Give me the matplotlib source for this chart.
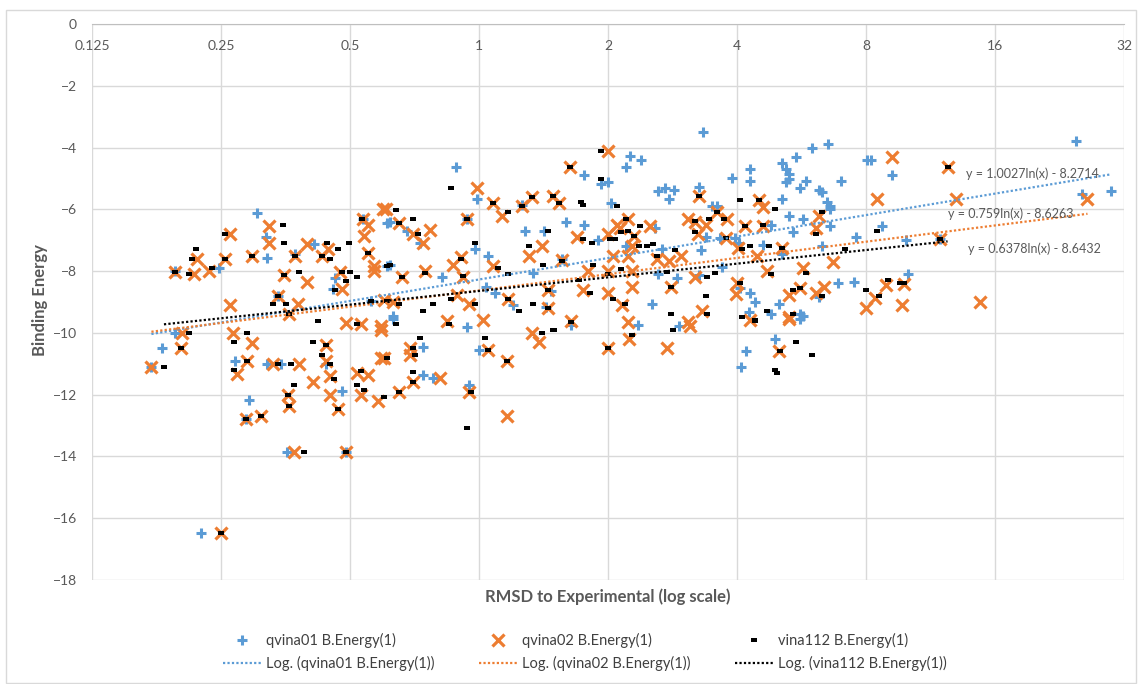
import matplotlib
matplotlib.use('Agg')
import matplotlib.pyplot as plt
import matplotlib.patches as plp
import numpy as np

plt.rcParams['font.family'] = ['Lato', 'DejaVu Sans']

# qvina01 (blue +)
q1_rmsd = [0.304, 0.318, 0.32, 0.247, 0.195, 0.413, 0.462, 0.456, 0.537, 0.61, 0.61, 0.34, 0.56, 0.373,
           0.886, 1.76, 2.0, 1.93, 0.99, 1.26, 2.03, 0.62, 0.68, 0.73, 1.28, 1.42, 1.6, 1.76, 1.9, 0.98,
           1.05, 1.56, 1.34, 0.82, 1.04, 1.09, 1.47, 1.2, 1.43, 0.94, 0.63, 0.62, 0.94,
           0.195, 0.182, 0.172, 0.27, 0.29, 0.286, 0.345, 0.32, 0.357, 0.49, 0.224, 0.44, 0.48,
           0.63, 0.74, 0.74, 0.78, 0.95, 0.998, 1.64,
           3.34, 6.0, 6.52, 2.25, 2.39, 2.2, 8.05, 4.3, 4.3, 3.9, 5.1, 5.5, 5.2, 5.3, 5.3, 5.2, 5.8, 5.6,
           7.0, 6.2, 6.3, 6.5, 6.6, 2.62, 2.71, 2.85, 2.78, 3.26, 5.1, 5.3, 6.6, 6.6, 5.7, 5.4, 7.6, 4.8,
           3.6, 3.5, 3.38, 3.66, 3.95, 3.3, 4.05, 4.6, 5.1, 6.3, 2.58, 2.2, 2.67, 2.62, 2.9, 3.26, 3.7,
           4.07, 2.53, 4.3, 4.4, 4.27, 4.8, 5.0, 6.2, 6.9, 7.5, 5.6, 5.7,
           2.35, 2.93, 4.9, 4.2, 4.08, 5.6,
           8.2, 9.2, 24.7, 25.6, 29.9, 8.7, 9.9, 11.9, 10.0]
q1_energy = [-6.11, -6.89, -7.59, -7.9, -8.0, -7.11, -8.22, -8.59, -6.3, -6.43, -7.82, -8.8, -8.97, -7.45,
             -4.63, -4.9, -5.11, -5.19, -5.68, -5.85, -5.8, -6.4, -6.7, -7.1, -6.7, -6.7, -6.4, -6.5, -7.0, -7.3,
             -7.5, -7.62, -8.07, -8.2, -8.5, -8.7, -8.65, -9.1, -9.15, -9.8, -9.45, -7.8, -6.3,
             -10.0, -10.48, -11.1, -10.9, -12.18, -12.8, -11.0, -11.0, -13.87, -13.87, -16.48, -11.0, -11.88,
             -9.55, -10.46, -11.35, -11.46, -11.7, -10.57, -9.75,
             -3.51, -4.0, -3.87, -4.27, -4.4, -4.62, -4.4, -4.68, -5.08, -5.0, -4.5, -4.3, -4.68, -4.86, -5.03, -5.12, -5.08, -5.3,
             -5.08, -5.38, -5.45, -5.76, -5.9, -5.4, -5.3, -5.36, -5.65, -5.28, -5.68, -6.2, -6.0, -6.55, -6.3, -6.75, -6.9, -6.5,
             -5.9, -5.9, -6.9, -6.92, -6.92, -7.32, -7.1, -7.14, -7.46, -7.2, -6.6, -7.2, -7.3, -8.08, -8.22, -8.11, -7.86,
             -8.55, -9.08, -8.7, -9.0, -9.33, -9.4, -9.08, -8.83, -8.4, -8.35, -9.4, -9.45,
             -9.76, -9.77, -10.2, -10.58, -11.1, -9.55,
             -4.4, -4.9, -3.78, -5.51, -5.4, -6.55, -7.0, -6.97, -8.1]

# qvina02 (orange x)
q2_rmsd = [0.263, 0.323, 0.324, 0.220, 0.234, 0.256, 0.195, 0.216, 0.296, 0.396, 0.444, 0.373, 0.43, 0.35,
           0.396, 0.474, 0.478, 0.537, 0.55, 0.54, 0.598, 0.55, 0.57, 0.57, 0.34, 0.379, 0.263, 0.36, 0.49,
           0.53, 0.59, 0.6,
           2.0, 1.63, 0.99, 1.08, 1.13, 1.26, 1.33, 1.49, 1.54, 0.607, 0.65, 0.94, 0.77, 0.70, 0.74, 1.69,
           2.0, 2.1, 1.4, 1.31, 0.91, 0.87, 1.08, 1.56, 1.8, 0.92, 0.75, 0.66, 1.45, 1.75, 2.0, 2.16, 0.89,
           0.95, 1.17, 1.45, 0.84, 1.02, 1.64, 0.63, 2.05, 2.0,
           0.203, 0.202, 0.172, 0.267, 0.296, 0.288, 0.272, 0.286, 0.31, 0.33, 0.38, 0.41, 0.358, 0.36,
           0.37, 0.49, 0.25, 0.44, 0.44, 0.45, 0.45, 0.47, 0.59, 0.59, 0.52, 0.55, 0.53, 0.58,
           0.69, 0.69, 0.6, 0.81, 0.7, 0.65, 0.95, 1.16, 1.05, 1.16, 1.33, 1.38, 2.0,
           3.27, 4.5, 4.6, 6.2, 6.1, 4.17, 4.6, 3.07, 3.38, 3.25, 3.2, 3.6, 3.8, 3.77, 4.02, 4.45, 5.1, 5.7,
           6.7, 4.7, 2.23, 2.13, 2.5, 2.3, 2.27, 2.23, 2.6, 2.78, 2.96, 2.27, 3.2, 3.97, 4.0, 2.8, 2.27,
           3.32, 3.08, 2.23, 4.3, 5.3, 5.6, 6.1, 6.4, 5.3,
           2.24, 2.75, 3.1, 5.0, 5.3,
           9.2, 12.4, 26.3, 8.5, 13.0, 11.9, 9.8, 8.9, 8.4, 8.0, 9.7, 14.8]
q2_energy = [-6.81, -6.54, -7.1, -7.6, -8.0, -7.6, -8.02, -8.1, -7.51, -7.11, -7.3, -7.51, -7.5, -8.11,
             -8.35, -8.03, -8.59, -6.32, -6.52, -6.86, -6.0, -7.4, -7.82, -8.0, -8.8, -9.08, -9.11, -9.4, -9.68,
             -9.7, -9.78, -8.92,
             -4.12, -4.62, -5.32, -5.8, -6.2, -5.9, -5.6, -5.56, -5.8, -6.0, -6.43, -6.3, -6.67, -6.8, -7.1, -6.9,
             -6.8, -6.5, -7.2, -7.5, -7.55, -7.8, -7.84, -7.65, -8.0, -8.2, -8.0, -8.2, -8.6, -8.6, -8.7, -9.1, -8.76,
             -9.07, -8.9, -9.2, -9.6, -9.57, -9.6, -9.0, -7.5, -8.0,
             -10.0, -10.5, -11.1, -10.0, -10.32, -10.9, -11.32, -12.8, -12.69, -11.0, -11.0, -11.6, -12.0, -12.37,
             -13.87, -13.87, -16.48, -10.4, -10.9, -11.38, -12.0, -12.47, -9.9, -10.8, -11.3, -11.35, -12.0, -12.2,
             -10.5, -10.7, -10.8, -11.46, -11.6, -11.9, -11.9, -12.69, -10.57, -10.9, -10.0, -10.3, -10.5,
             -5.57, -5.7, -5.92, -6.21, -6.6, -6.54, -6.54, -6.32, -6.52, -6.8, -6.4, -6.1, -6.3, -6.92, -7.24, -7.5, -7.24, -7.9,
             -7.7, -8.0, -6.32, -6.6, -6.54, -6.86, -7.2, -7.5, -7.62, -7.68, -7.5, -8.0, -8.2, -8.75, -8.38, -8.5, -8.5,
             -9.3, -9.66, -9.65, -9.57, -8.76, -8.54, -8.7, -8.5, -9.5,
             -10.2, -10.5, -9.77, -10.6, -9.55,
             -4.32, -4.62, -5.68, -5.68, -5.68, -6.97, -8.43, -8.45, -8.87, -9.2, -9.1, -9.0]

# vina112 (black dash)
v112_rmsd = [0.255, 0.349, 0.35, 0.219, 0.214, 0.238, 0.256, 0.195, 0.21, 0.296, 0.442, 0.468, 0.497, 0.373,
             0.43, 0.45, 0.35, 0.38, 0.479, 0.5, 0.52, 0.49, 0.462, 0.534, 0.55, 0.61, 0.34, 0.33, 0.355, 0.36,
             0.42, 0.52, 0.56, 0.61,
             1.93, 1.63, 1.93, 0.86, 1.08, 1.17, 1.26, 1.33, 1.49, 1.54, 1.73, 1.75, 2.1, 0.64, 0.65, 0.70,
             0.94, 0.72, 1.45, 1.75, 1.84, 2.02, 2.08, 1.31, 1.41, 0.98, 0.91, 1.11, 1.56, 1.85, 1.17, 0.92,
             0.75, 0.66, 1.45, 1.82, 1.71, 2.05, 0.86, 0.98, 0.78, 0.74, 1.17, 1.24, 1.34, 1.45, 0.85, 1.64,
             1.5, 0.65, 0.64, 0.62, 2.0,
             0.21, 0.202, 0.184, 0.287, 0.268, 0.288, 0.268, 0.286, 0.31, 0.34, 0.365, 0.37, 0.358, 0.36,
             0.39, 0.49, 0.25, 0.41, 0.44, 0.43, 0.45, 0.46, 0.47, 0.61, 0.53, 0.52, 0.54, 0.6,
             0.70, 0.73, 0.71, 0.7, 0.7, 0.65, 0.6, 0.96, 0.94, 1.03, 1.05, 1.16, 1.4, 1.49, 2.0,
             3.27, 4.5, 4.07, 4.9, 6.3, 6.1, 4.17, 4.6, 3.2, 3.2, 3.44, 3.6, 3.74, 3.77, 7.16, 4.1, 4.3, 4.75,
             5.1, 5.8, 4.8, 2.2, 2.23, 2.15, 2.38, 2.3, 2.36, 2.46, 2.55, 2.6, 2.86, 2.14, 2.75, 3.4, 3.55,
             3.38, 4.07, 2.8, 2.8, 3.4, 2.19, 4.4, 4.7, 5.4, 5.6, 6.3, 8.0, 5.4, 4.1,
             2.28, 2.84, 4.4, 5.5, 5.05, 6.0, 4.9, 4.95,
             12.4, 8.5, 11.9, 9.0, 9.8, 9.6, 8.6]
v112_energy = [-6.81, -6.5, -7.09, -7.3, -7.6, -7.91, -7.6, -8.02, -8.08, -7.51, -7.1, -7.3, -7.08, -7.51,
               -7.5, -7.62, -8.11, -8.02, -8.03, -8.03, -8.18, -8.31, -8.62, -6.3, -7.4, -7.82, -8.8, -9.08, -9.08, -9.4,
               -9.6, -9.7, -8.97, -8.97,
               -4.12, -4.62, -5.03, -5.3, -5.8, -6.08, -5.9, -5.6, -5.56, -5.8, -5.75, -5.85, -5.9, -6.02, -6.43, -6.3,
               -6.3, -6.81, -6.7, -6.95, -7.1, -6.95, -6.95, -7.2, -7.8, -7.1, -7.6, -7.9, -7.68, -7.8, -8.1, -8.15,
               -8.05, -8.2, -8.62, -8.7, -8.3, -8.9, -8.9, -9.07, -9.07, -9.3, -8.9, -9.3, -9.07, -9.2, -9.7, -9.65,
               -9.9, -9.07, -9.7, -7.8, -8.1,
               -10.0, -10.5, -11.09, -10.0, -10.3, -10.9, -11.2, -12.8, -12.69, -11.0, -11.0, -11.7, -12.0, -12.37,
               -13.87, -13.87, -16.48, -10.3, -10.4, -10.7, -11.0, -11.5, -12.47, -10.8, -11.25, -11.7, -11.85, -12.08,
               -10.5, -10.17, -10.7, -11.27, -11.6, -11.9, -12.07, -11.9, -13.07, -10.17, -10.57, -10.9, -10.0, -9.9, -10.5,
               -5.57, -5.7, -5.7, -6.0, -6.08, -6.8, -6.54, -6.5, -6.38, -6.73, -6.3, -6.1, -6.3, -6.92, -7.3, -7.3, -7.2, -7.2,
               -7.24, -8.05, -8.1, -6.3, -6.7, -6.74, -6.54, -6.86, -7.2, -7.2, -7.13, -7.5, -7.32, -7.92, -8.03, -8.18, -8.07,
               -8.81, -8.4, -8.5, -9.4, -9.4, -9.08, -9.57, -9.3, -8.6, -8.54, -8.8, -8.6, -9.4, -9.5,
               -10.07, -9.9, -9.6, -10.3, -10.6, -10.7, -11.2, -11.3,
               -4.62, -6.7, -6.97, -8.3, -8.4, -8.4, -8.8]

series_names = ['qvina01 B.Energy(1)', 'qvina02 B.Energy(1)', 'vina112 B.Energy(1)']
trend_slope = [1.0027, 0.759, 0.6378]
trend_icpt = [-8.2714, -8.6263, -8.6432]
trend_label_pos = [(19.6, -4.84), (17.4, -6.13), (19.8, -7.26)]

x_ticks = [0.125, 0.25, 0.5, 1, 2, 4, 8, 16, 32]
x_tick_labels = ['0.125', '0.25', '0.5', '1', '2', '4', '8', '16', '32']
y_ticks = [0, -2, -4, -6, -8, -10, -12, -14, -16, -18]

grey = '#595959'
colors = ['#5b9bd5', '#ed7d31', '#000000']
dash = [(-1, -0.6), (1, -0.6), (1, 0.6), (-1, 0.6), (-1, -0.6)]

W, H = 1138, 684
fig = plt.figure(figsize=(W / 100, H / 100), dpi=100)
fig.patches.append(plp.Rectangle((6 / W, 1 / H), (W - 8) / W, (H - 11) / H, transform=fig.transFigure,
                                 fill=False, ec='#d9d9d9', lw=1))
ax = fig.add_axes([92 / W, 1 - 580 / H, (1124 - 92) / W, (580 - 24) / H])
ax.set_xscale('log', base=2)
ax.set_xlim(0.125, 32)
ax.set_ylim(-18, 0)

sc1, = ax.plot(q1_rmsd, q1_energy, ls='none', marker='+', ms=7.5, mew=2.2, color=colors[0], zorder=3)
sc2, = ax.plot(q2_rmsd, q2_energy, ls='none', marker='x', ms=9, mew=2.3, color=colors[1], zorder=4)
sc3, = ax.plot(v112_rmsd, v112_energy, ls='none', marker=dash, ms=5, mew=0, color=colors[2], zorder=5)

lines = []
for xs, a, b, c, name in zip([q1_rmsd, q2_rmsd, v112_rmsd], trend_slope, trend_icpt, colors, series_names):
    xx = np.geomspace(min(xs), max(xs), 200)
    ln, = ax.plot(xx, a * np.log(xx) + b, ls=(0, (1, 1)), lw=1.6, color=c, zorder=6,
                  label='Log. (' + name + ')')
    lines.append(ln)

for a, b, (tx, ty) in zip(trend_slope, trend_icpt, trend_label_pos):
    ax.text(tx, ty, 'y = %gln(x) - %g' % (a, -b), ha='center', va='center', fontsize=9, color=grey, zorder=7)

ax.set_xticks(x_ticks)
ax.set_xticklabels(x_tick_labels)
ax.minorticks_off()
ax.set_yticks(y_ticks)
ax.tick_params(axis='x', top=True, labeltop=True, bottom=False, labelbottom=False, length=0, pad=-20,
               labelsize=10, labelcolor=grey)
ax.tick_params(axis='y', length=0, pad=11, labelsize=10, labelcolor=grey)
ax.grid(True, color='#d9d9d9', lw=1)
ax.set_axisbelow(True)
for s in ['left', 'right', 'bottom']:
    ax.spines[s].set_visible(False)
ax.spines['top'].set_color('#bfbfbf')

fig.text(40 / W, 1 - 300 / H, 'Binding Energy', rotation=90, ha='center', va='center',
         fontsize=12, fontweight='bold', color=grey)
fig.text(608 / W, 1 - 597 / H, 'RMSD to Experimental (log scale)', ha='center', va='center',
         fontsize=12, fontweight='bold', color=grey)

handles = [sc1, lines[0], sc2, lines[1], sc3, lines[2]]
labels = [series_names[0], lines[0].get_label(), series_names[1], lines[1].get_label(),
          series_names[2], lines[2].get_label()]
fig.legend(handles, labels, ncol=3, loc='center', bbox_to_anchor=(585 / W, 1 - 652 / H), frameon=False,
           fontsize=10.5, labelcolor='#404040', handlelength=2.6, handletextpad=0.4, columnspacing=3.0,
           labelspacing=0.6)

fig.savefig('out.png', dpi=100)
